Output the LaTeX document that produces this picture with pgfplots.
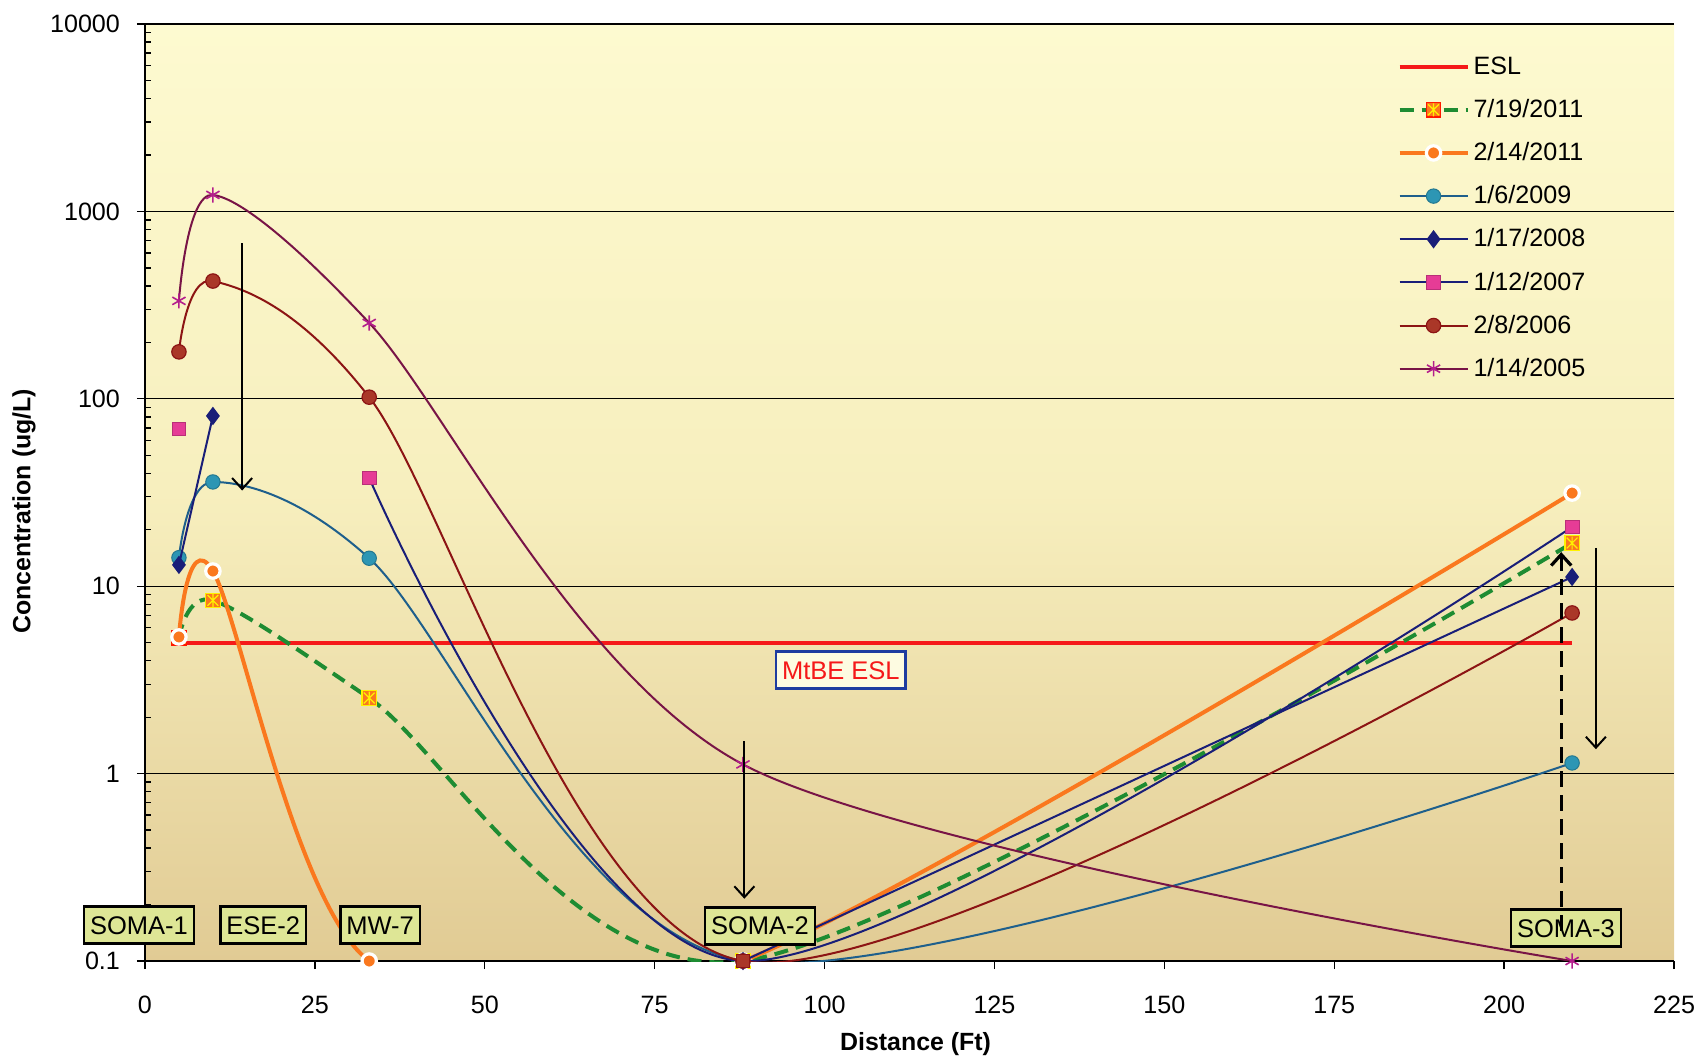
\documentclass[border=0pt]{standalone}
\usepackage{fontspec}
\setmainfont{Liberation Sans}
\usepackage{pgfplots}
\usepackage{pgfplotstable}
\pgfplotsset{compat=1.18}
\usetikzlibrary{arrows.meta}

\definecolor{eslred}{RGB}{245,25,25}
\definecolor{dgreen}{RGB}{30,140,50}
\definecolor{orng}{RGB}{250,120,30}
\definecolor{tealm}{RGB}{45,150,180}
\definecolor{tealline}{RGB}{30,95,140}
\definecolor{navy}{RGB}{25,30,120}
\definecolor{pinkm}{RGB}{230,60,150}
\definecolor{dredline}{RGB}{140,20,20}
\definecolor{dredm}{RGB}{170,55,40}
\definecolor{purpline}{RGB}{120,20,70}
\definecolor{purpm}{RGB}{180,30,140}
\definecolor{boxgreen}{RGB}{222,230,150}
\definecolor{bgtop}{RGB}{253,250,208}
\definecolor{bgmid}{RGB}{247,239,190}
\definecolor{bgbot}{RGB}{225,203,148}
\definecolor{boxblue}{RGB}{30,60,160}
\definecolor{eslbox}{RGB}{253,251,225}

\pgfdeclareplotmark{sqast}{%
  \pgfpathrectangle{\pgfqpoint{-\pgfplotmarksize}{-\pgfplotmarksize}}{\pgfqpoint{2\pgfplotmarksize}{2\pgfplotmarksize}}%
  \pgfusepathqfillstroke
  \pgfsetstrokecolor{yellow}%
  \pgfpathmoveto{\pgfqpoint{-0.75\pgfplotmarksize}{-0.75\pgfplotmarksize}}%
  \pgfpathlineto{\pgfqpoint{0.75\pgfplotmarksize}{0.75\pgfplotmarksize}}%
  \pgfpathmoveto{\pgfqpoint{-0.75\pgfplotmarksize}{0.75\pgfplotmarksize}}%
  \pgfpathlineto{\pgfqpoint{0.75\pgfplotmarksize}{-0.75\pgfplotmarksize}}%
  \pgfpathmoveto{\pgfqpoint{0pt}{-0.9\pgfplotmarksize}}%
  \pgfpathlineto{\pgfqpoint{0pt}{0.9\pgfplotmarksize}}%
  \pgfusepathqstroke
}

% x = distance (ft); nan = no sample
\pgfplotstableread{
x     d20110719 d20110214 d20090106 d20080117 d20070112 d20060208 d20050114
5     5.3       5.36      14.2      13        69        178       333
10    8.4       12.05     36        81        nan       425       1224
33    2.53      0.1       14.1      nan       37.8      102       254
88    0.1       0.1       0.1       0.1       0.1       0.1       1.12
210   17        31.4      1.14      11.2      20.7      7.2       0.1
}\conc

\pgfplotstableread{
x    esl
5    5
210  5
}\esl

\pgfplotstableread{
x    y
88   0.1
}\somatwo

\begin{document}
\begin{tikzpicture}
\begin{axis}[
  scale only axis,
  width=764.5bp, height=468.5bp,
  xmin=0, xmax=225, ymin=0.1, ymax=10000,
  ymode=log,
  clip mode=individual,
  unbounded coords=jump,
  axis x line=bottom, axis y line=left,
  axis line style={-, black, line width=0.8bp},
  axis background/.style={top color=bgtop, bottom color=bgbot, middle color=bgmid},
  xtick={0,25,...,225},
  ytick={0.1,1,10,100,1000,10000},
  yticklabels={0.1,1,10,100,1000,10000},
  xticklabels={0,25,50,75,100,125,150,175,200,225},
  tick align=outside,
  major tick length=4bp,
  minor tick length=3bp,
  every minor tick/.append style={xshift=3bp},
  tick style={black, line width=0.7bp},
  ymajorgrids,
  grid style={black, line width=0.6bp},
  ticklabel style={font=\fontsize{12.6}{15}\selectfont},
  xticklabel style={yshift=-10bp},
  yticklabel style={xshift=-5bp},
  xlabel={\bfseries Distance (Ft)},
  ylabel={\bfseries Concentration (ug/L)},
  xlabel style={at={(axis description cs:0.504,-0.0886)}, anchor=center, font=\fontsize{12.5}{15}\selectfont},
  ylabel style={at={(axis description cs:-0.0791,0.48)}, anchor=center, font=\fontsize{12.5}{15}\selectfont},
  legend style={at={(0.815,0.974)}, anchor=north west, draw=none, fill=none,
    font=\fontsize{12.6}{15}\selectfont, row sep=7bp,
    /tikz/every even column/.append style={column sep=2bp}},
  legend cell align=left,
  legend image code/.code={\draw[mark repeat=2,mark phase=2,#1] plot coordinates {(0bp,0bp) (17bp,0bp) (34bp,0bp)};},
]
\addplot[eslred, line width=2bp, no marks] table[x=x, y=esl] {\esl};
\addlegendentry{ESL}
\addplot[dgreen, line width=2bp, dash pattern=on 7bp off 4bp, smooth, mark=sqast, mark size=3.6bp,
  mark options={solid, fill=orng, draw=red!80!orange, line width=0.6bp}]
  table[x=x, y=d20110719] {\conc};
\addlegendentry{7/19/2011}
\addplot[orng, line width=2bp, smooth, mark=*, mark size=3.6bp,
  mark options={fill=orng, draw=white, line width=1.6bp}]
  table[x=x, y=d20110214] {\conc};
\addlegendentry{2/14/2011}
\addplot[tealline, line width=1bp, smooth, mark=*, mark size=3.6bp,
  mark options={fill=tealm, draw=tealm!80!black, line width=0.5bp}]
  table[x=x, y=d20090106] {\conc};
\addlegendentry{1/6/2009}
\addplot[navy, line width=1bp, smooth, mark=diamond*, mark size=3.8bp,
  mark options={fill=navy, draw=navy}]
  table[x=x, y=d20080117] {\conc};
\addlegendentry{1/17/2008}
\addplot[navy, line width=1bp, smooth, mark=square*, mark size=3.4bp,
  mark options={fill=pinkm, draw=pinkm!80!black, line width=0.4bp}]
  table[x=x, y=d20070112] {\conc};
\addlegendentry{1/12/2007}
\addplot[dredline, line width=1bp, smooth, mark=*, mark size=3.6bp,
  mark options={fill=dredm, draw=dredline, line width=0.6bp}]
  table[x=x, y=d20060208] {\conc};
\addlegendentry{2/8/2006}
\addplot[purpline, line width=1bp, smooth, mark=asterisk, mark size=3.8bp,
  mark options={draw=purpm, line width=0.8bp}]
  table[x=x, y=d20050114] {\conc};
\addlegendentry{1/14/2005}
\addplot[forget plot, only marks, mark=square*, mark size=3.4bp,
  mark options={fill=dredm, draw=dredline, line width=0.5bp}]
  table[x=x, y=y] {\somatwo};

% arrows
\draw[black, line width=1bp, -{Straight Barb[length=5.5bp, width=10bp]}] (axis cs:14.3,678) -- (axis cs:14.3,32.4);
\draw[black, line width=1bp, -{Straight Barb[length=5.5bp, width=10bp]}] (axis cs:88.2,1.49) -- (axis cs:88.2,0.215);
\draw[black, line width=1bp, -{Straight Barb[length=5.5bp, width=10bp]}] (axis cs:213.5,16) -- (axis cs:213.5,1.35);

% annotation boxes
\tikzset{wellbox/.style={draw=black, line width=1.3bp, fill=boxgreen, font=\fontsize{12.8}{15}\selectfont,
  inner xsep=3bp, inner ysep=0bp, minimum height=18.5bp, text height=9.5bp, text depth=0.5bp}}
\node[wellbox] at (axis cs:-0.88,0.1556) {SOMA-1};
\node[wellbox] at (axis cs:17.4,0.1556) {ESE-2};
\node[wellbox] at (axis cs:34.6,0.1556) {MW-7};
\node[wellbox] at (axis cs:90.5,0.154) {SOMA-2};
\node[wellbox] at (axis cs:209.1,0.15) {SOMA-3};
\node[draw=boxblue, line width=1.2bp, fill=eslbox, text=eslred, font=\fontsize{12.8}{15}\selectfont,
  inner xsep=3bp, inner ysep=0bp, minimum height=18.5bp, text height=9.5bp, text depth=0.5bp]
  at (axis cs:102.4,3.57) {MtBE ESL};

\draw[black, line width=1.6bp, dash pattern=on 8bp off 4bp, -{Straight Barb[length=5.5bp, width=10bp]}] (axis cs:208.4,0.145) -- (axis cs:208.4,15.2);

% page extent
\path (rel axis cs:-0.0948,-0.1057) rectangle (rel axis cs:1.0183,1.0256);
\end{axis}
\end{tikzpicture}
\end{document}
